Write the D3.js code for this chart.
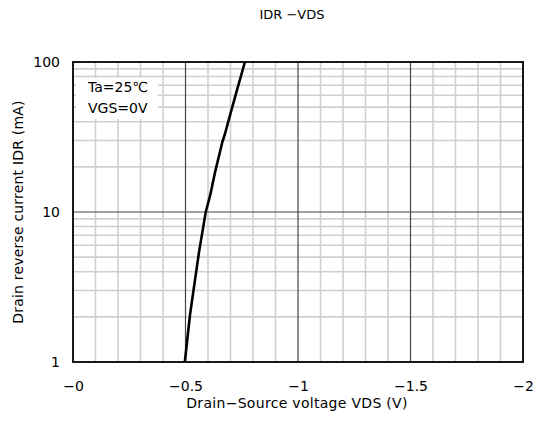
<!DOCTYPE html>
<html><head><meta charset="utf-8">
<script src="https://cdn.jsdelivr.net/npm/d3@7"></script>
<style>
body{margin:0;background:#fff;}
text{font-family:"DejaVu Sans",sans-serif;fill:#000;}
</style></head>
<body><svg id="c" width="538" height="425"></svg>
<script>
const title = "IDR −VDS";
const xLabel = "Drain−Source voltage VDS (V)";
const yLabel = "Drain reverse current IDR (mA)";
const xTicks = [0, -0.5, -1, -1.5, -2];
const xTickLabels = ["−0", "−0.5", "−1", "−1.5", "−2"];
const yTicks = [1, 10, 100];
const yTickLabels = ["1", "10", "100"];
const legendLines = ["Ta=25℃", "VGS=0V"];
const vds = [-0.497, -0.52, -0.56, -0.59, -0.61, -0.632, -0.664, -0.675, -0.698, -0.73, -0.764];
const idr = [1, 2.06, 5.4, 10, 13, 18.6, 29.4, 33, 44.3, 66, 100];

const svg = d3.select("#c");
const L = 73, R = 523, T = 62, B = 362;
const x = d3.scaleLinear().domain([0, -2]).range([L, R]);
const y = d3.scaleLog().domain([1, 100]).range([B, T]);

const minorX = d3.range(1, 20).map(i => -i * 0.1).filter((v, i) => (i + 1) % 5 !== 0);
const majorX = [-0.5, -1, -1.5];
const minorY = [];
[1, 10].forEach(d => { for (let k = 2; k <= 9; k++) minorY.push(d * k); });
const majorY = [10];

const g = svg.append("g");
g.selectAll(".mx").data(minorX).join("line")
  .attr("x1", d => x(d)).attr("x2", d => x(d)).attr("y1", T).attr("y2", B)
  .attr("stroke", "#cfcfcf").attr("stroke-width", 1.6);
g.selectAll(".my").data(minorY).join("line")
  .attr("y1", d => y(d)).attr("y2", d => y(d)).attr("x1", L).attr("x2", R)
  .attr("stroke", "#cfcfcf").attr("stroke-width", 1.6);
g.selectAll(".Mx").data(majorX).join("line")
  .attr("x1", d => x(d)).attr("x2", d => x(d)).attr("y1", T).attr("y2", B)
  .attr("stroke", "#444").attr("stroke-width", 1.2);
g.selectAll(".My").data(majorY).join("line")
  .attr("y1", d => y(d)).attr("y2", d => y(d)).attr("x1", L).attr("x2", R)
  .attr("stroke", "#444").attr("stroke-width", 1.2);

svg.append("rect").attr("x", 76).attr("y", 78).attr("width", 82).attr("height", 41).attr("fill", "#fff");
svg.selectAll(".leg").data(legendLines).join("text")
  .attr("x", 88).attr("y", (d, i) => 92 + i * 21)
  .attr("font-size", 14).text(d => d);

svg.append("rect").attr("x", L).attr("y", T).attr("width", R - L).attr("height", B - T)
  .attr("fill", "none").attr("stroke", "#000").attr("stroke-width", 1.8);

const pts = vds.map((v, i) => [v, idr[i]]);
svg.append("path").datum(pts)
  .attr("d", d3.line().x(d => x(d[0])).y(d => y(d[1])))
  .attr("fill", "none").attr("stroke", "#000").attr("stroke-width", 2.6)
  .attr("stroke-linejoin", "round");

const xa = svg.append("g").attr("transform", `translate(0,${B})`)
  .call(d3.axisBottom(x).tickValues(xTicks).tickSize(0).tickPadding(19)
    .tickFormat((d, i) => xTickLabels[i]));
xa.select(".domain").remove();
xa.selectAll("text").attr("font-size", 14).attr("font-family", '"DejaVu Sans"');

const ya = svg.append("g").attr("transform", `translate(${L},0)`)
  .call(d3.axisLeft(y).tickValues(yTicks).tickSize(0).tickPadding(13)
    .tickFormat((d, i) => yTickLabels[i]));
ya.select(".domain").remove();
ya.selectAll("text").attr("font-size", 14).attr("font-family", '"DejaVu Sans"');

svg.append("text").attr("x", 292).attr("y", 19).attr("text-anchor", "middle")
  .attr("font-size", 13).text(title);
svg.append("text").attr("x", 297).attr("y", 408).attr("text-anchor", "middle")
  .attr("font-size", 14).attr("letter-spacing", 0.3).text(xLabel);
svg.append("text").attr("transform", "translate(23,212) rotate(-90)").attr("text-anchor", "middle")
  .attr("font-size", 14).attr("letter-spacing", 0.2).text(yLabel);
</script></body></html>
